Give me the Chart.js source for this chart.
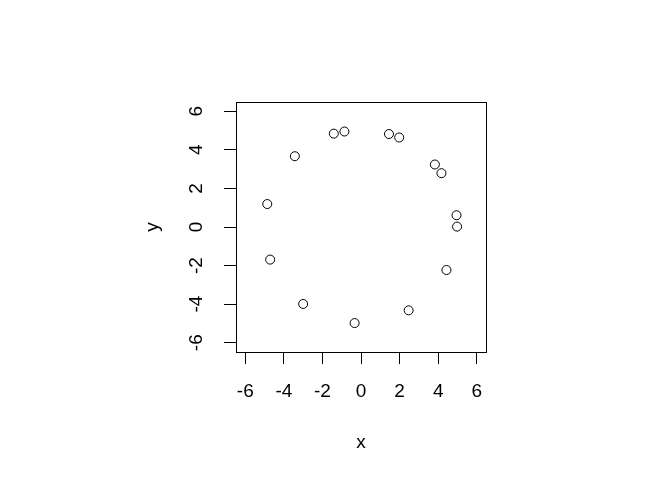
<!DOCTYPE html>
<html>
<head>
<meta charset="utf-8">
<script src="https://cdn.jsdelivr.net/npm/chart.js@4"></script>
<style>
  html, body { margin: 0; padding: 0; background: #fff; }
  #wrap { width: 672px; height: 480px; }
</style>
</head>
<body>
<div id="wrap"><canvas id="plot"></canvas></div>
<script>
// points
const xs = [-4.86, -3.43, -1.41, -0.86, 1.45, 1.98, 3.83, 4.17, 4.95, 4.98, 4.43, 2.47, -0.33, -3.0, -4.71];
const ys = [1.19, 3.67, 4.84, 4.95, 4.82, 4.64, 3.24, 2.79, 0.61, 0.02, -2.23, -4.32, -4.98, -3.99, -1.69];
const tickValues = [-6, -4, -2, 0, 2, 4, 6];
const axisMin = -6.48;
const axisMax = 6.48;

const FONT = 'Liberation Sans, Arial, Helvetica, sans-serif';
const FONT_SIZE = 19;

// box on top/right + rotated y tick labels (R style)
const rPlot = {
    id: 'rPlot',
    afterDraw(chart) {
        const { ctx, chartArea: a } = chart;
        ctx.save();
        ctx.strokeStyle = '#000';
        ctx.lineWidth = 1;
        ctx.strokeRect(Math.round(a.left) + 0.5, Math.round(a.top) + 0.5,
            Math.round(a.right - a.left), Math.round(a.bottom - a.top));

        const y = chart.scales.y;
        ctx.fillStyle = '#000';
        ctx.font = `${FONT_SIZE}px ${FONT}`;
        ctx.textAlign = 'center';
        ctx.textBaseline = 'middle';
        y.ticks.forEach(t => {
            ctx.save();
            ctx.translate(197, y.getPixelForValue(t.value));
            ctx.rotate(-Math.PI / 2);
            ctx.fillText(String(t.value), 0, 0);
            ctx.restore();
        });
        ctx.restore();
    }
};

new Chart(document.getElementById('plot'), {
    type: 'scatter',
    data: {
        datasets: [{
            data: xs.map((x, i) => ({ x, y: ys[i] })),
            pointStyle: 'circle',
            pointRadius: 4.5,
            pointHoverRadius: 4.5,
            borderWidth: 1,
            borderColor: '#000',
            backgroundColor: 'rgba(0,0,0,0)'
        }]
    },
    options: {
        responsive: true, maintainAspectRatio: false,
        animation: false,
        events: [],
        layout: { padding: { left: 0, top: 102, right: 186, bottom: 0 } },
        scales: {
            x: {
                type: 'linear', min: axisMin, max: axisMax,
                afterBuildTicks: s => { s.ticks = tickValues.map(v => ({ value: v })); },
                afterFit: s => { s.height = 128; },
                grid: { drawOnChartArea: false, tickLength: 12, tickColor: '#000', lineWidth: 1 },
                border: { display: true, color: '#000', width: 1 },
                ticks: { color: '#000', padding: 16, font: { family: FONT, size: FONT_SIZE }, maxRotation: 0, autoSkip: false },
                title: { display: true, text: 'x', color: '#000', font: { family: FONT, size: FONT_SIZE }, padding: { bottom: 26, top: 0 } }
            },
            y: {
                type: 'linear', min: axisMin, max: axisMax,
                afterBuildTicks: s => { s.ticks = tickValues.map(v => ({ value: v })); },
                afterFit: s => { s.width = 236; },
                grid: { drawOnChartArea: false, tickLength: 12, tickColor: '#000', lineWidth: 1 },
                border: { display: true, color: '#000', width: 1 },
                ticks: { display: false },
                title: { display: true, text: 'y', color: '#000', font: { family: FONT, size: FONT_SIZE }, padding: { top: 141, bottom: 0 } }
            }
        },
        plugins: { legend: { display: false }, tooltip: { enabled: false } }
    },
    plugins: [rPlot]
});
</script>
</body>
</html>
